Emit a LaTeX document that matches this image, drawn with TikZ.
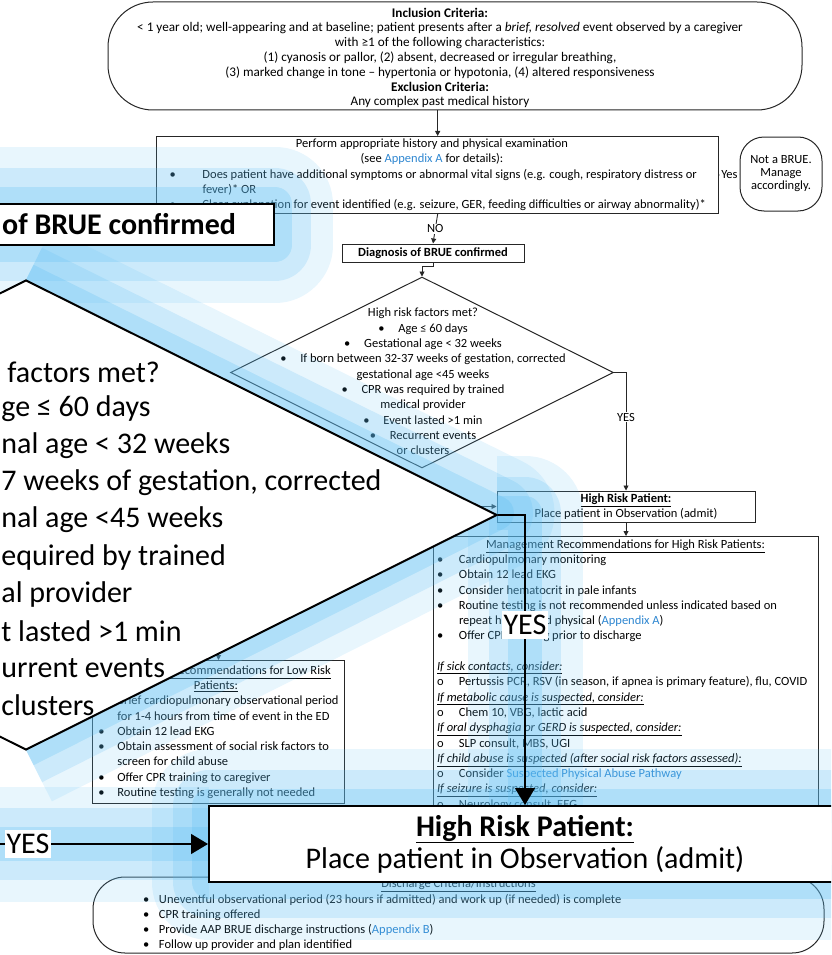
\documentclass[tikz,border=0pt]{standalone}
\usepackage{fontspec}
\setmainfont{Carlito}
\usepackage{tikz}
\usetikzlibrary{arrows.meta, shapes.geometric, calc, positioning}
\definecolor{linkBlue}{HTML}{2E86D0}
\definecolor{glowBlue}{HTML}{5CBDF2}
\definecolor{flowGrey}{HTML}{262626}
\newcommand{\smalltxt}{\fontsize{12.5}{15.3}\selectfont}
\newcommand{\bigtxt}{\fontsize{30}{32}\selectfont}
\newcommand{\bl}[1][22pt]{\makebox[#1][l]{\textbullet}}
\newcommand{\subo}{\makebox[22pt][l]{o}}
\newcommand{\hd}[1]{\underline{\textit{#1}}}
\tikzset{
  % thin boxes of the flow chart, heavy ones for the enlarged call-outs
  every picture/.append style = {line width=0.8pt, >={Triangle[length=5pt, width=5pt]}},
  flowbox/.style   = {draw=flowGrey, line width=1pt, inner sep=0pt, font=\smalltxt},
  flowarrow/.style = {->, draw=flowGrey, line width=0.9pt},
  lbl/.style       = {fill=white, inner sep=1pt, font=\smalltxt},
  bigbox/.style    = {draw=black, line width=2pt, fill=white, font=\bigtxt},
  bigarrow/.style  = {-{Triangle[length=17pt, width=20pt]}, line width=1.4pt},
  biglbl/.style    = {fill=white, inner xsep=2pt, inner ysep=4pt, font=\bigtxt},
  glow/.style args = {#1/#2}{draw=glowBlue, line width=#1, draw opacity=#2, line join=round},
}

\begin{document}
\begin{tikzpicture}[x=1pt, y=-1pt]
  \useasboundingbox (0,0) rectangle (831,955);
  \clip (0,0) rectangle (831,955);

  % criteria box on top
  \node[flowbox, rounded corners=45pt, minimum width=694pt, minimum height=108pt] (incl) at (455,56) {};
  \node[font=\fontsize{13.2}{14.8}\selectfont, align=center, inner sep=0pt] (incltext) at (440,58)
    {\textbf{Inclusion Criteria:}\\
     < 1 year old; well-appearing and at baseline; patient presents after a \textit{brief, resolved} event observed by a caregiver\\
     with ≥1 of the following characteristics:\\
     (1) cyanosis or pallor, (2) absent, decreased or irregular breathing,\\
     (3) marked change in tone -- hypertonia or hypotonia, (4) altered responsiveness\\
     \textbf{Exclusion Criteria:}\\
     Any complex past medical history};

  % history and exam
  \node[flowbox, anchor=north west, minimum width=551pt, minimum height=77pt, inner xsep=13pt, align=left] (hist) at (156,136)
    {\makebox[525pt]{Perform appropriate history and physical examination}\\
     \makebox[525pt]{(see \textcolor{linkBlue}{Appendix A} for details):}\\
     \bl[33pt]Does patient have additional symptoms or abnormal vital signs (e.g. cough, respiratory distress or\\
     \hspace*{33pt}fever)* OR\\
     \bl[33pt]Clear explanation for event identified (e.g. seizure, GER, feeding difficulties or airway abnormality)*};
  \node[flowbox, rounded corners=24pt, minimum width=82pt, minimum height=74pt, align=center,
        font=\fontsize{12.5}{13}\selectfont] (notbrue) at (781,174) {Not a BRUE.\\ Manage\\ accordingly.};
  \node[flowbox, minimum width=182pt, minimum height=18pt, font=\smalltxt\bfseries] (diag) at (433,253) {Diagnosis of BRUE confirmed};

  % risk decision
  \node[flowbox, diamond, minimum width=383pt, minimum height=191pt] (risk) at (422,372.5) {};
  \node[font=\smalltxt, align=center, inner sep=0pt] (risktext) at (423,381.5)
    {High risk factors met?\\
     \bl[20pt]Age ≤ 60 days\\
     \bl[20pt]Gestational age < 32 weeks\\
     \bl[20pt]If born between 32-37 weeks of gestation, corrected\\
     gestational age <45 weeks\\
     \bl[20pt]CPR was required by trained\\
     medical provider\\
     \bl[20pt]Event lasted >1 min\\
     \bl[20pt]Recurrent events\\
     or clusters};

  \node[flowbox, minimum width=258pt, minimum height=31pt, align=center,
        font=\fontsize{12.5}{13}\selectfont] (high) at (626,506.5)
    {\underline{\textbf{High Risk Patient:}}\\ Place patient in Observation (admit)};

  \node[flowbox, anchor=north, minimum width=385pt, inner xsep=4pt, inner ysep=3pt, align=left] (mgmt) at (625.5,536)
    {\makebox[377pt]{\underline{Management Recommendations for High Risk Patients:}}\\
     \bl Cardiopulmonary monitoring\\
     \bl Obtain 12 lead EKG\\
     \bl Consider hematocrit in pale infants\\
     \bl Routine testing is not recommended unless indicated based on\\
     \hspace*{22pt}repeat history and physical (\textcolor{linkBlue}{Appendix A})\\
     \bl Offer CPR training prior to discharge\\
     \mbox{}\\
     \hd{If sick contacts, consider:}\\
     \subo Pertussis PCR, RSV (in season, if apnea is primary feature), flu, COVID\\
     \hd{If metabolic cause is suspected, consider:}\\
     \subo Chem 10, VBG, lactic acid\\
     \hd{If oral dysphagia or GERD is suspected, consider:}\\
     \subo SLP consult, MBS, UGI\\
     \hd{If child abuse is suspected (after social risk factors assessed):}\\
     \subo Consider \textcolor{linkBlue}{Suspected Physical Abuse Pathway}\\
     \hd{If seizure is suspected, consider:}\\
     \subo Neurology consult, EEG};

  \node[flowbox, anchor=north, minimum width=247pt, inner xsep=6pt, inner ysep=5pt, align=left] (low) at (218.5,660)
    {\makebox[235pt]{\underline{Management Recommendations for Low Risk}}\\
     \makebox[235pt]{\underline{Patients:}}\\
     \bl[19pt]Brief cardiopulmonary observational period\\
     \hspace*{19pt}for 1-4 hours from time of event in the ED\\
     \bl[19pt]Obtain 12 lead EKG\\
     \bl[19pt]Obtain assessment of social risk factors to\\
     \hspace*{19pt}screen for child abuse\\
     \bl[19pt]Offer CPR training to caregiver\\
     \bl[19pt]Routine testing is generally not needed};

  \node[flowbox, rounded corners=32pt, minimum width=731pt, minimum height=76pt, inner xsep=50pt, align=left] (disch) at (458.5,915)
    {\makebox[631pt]{\underline{Discharge Criteria/Instructions}}\\
     \bl[16pt]Uneventful observational period (23 hours if admitted) and work up (if needed) is complete\\
     \bl[16pt]CPR training offered\\
     \bl[16pt]Provide AAP BRUE discharge instructions (\textcolor{linkBlue}{Appendix B})\\
     \bl[16pt]Follow up provider and plan identified};

  % flow chart arrows
  \coordinate (highin) at (450,506.5);
  \coordinate (lowin) at (218.5,620);
  \draw[flowarrow] (incl.south -| hist.north) -- (hist.north);
  \draw[flowarrow] (hist.east) -- (notbrue.west) node[lbl, midway] {Yes};
  \draw[flowarrow] (hist.south) -- (diag.north) node[lbl, midway] {NO};
  \draw[flowarrow] (diag.south) -- ++(0,4) -| (risk.north);
  \draw[flowarrow] (risk.east) -| (high.north) node[lbl, pos=0.69] {YES};
  \draw[flowarrow] (highin) -- (high.west);
  \draw[flowarrow] (high.south) -- (high.south |- mgmt.north);
  \draw[flowarrow] (lowin) -- (low.north);

  % blue glow round the call-outs
  \foreach \w/\o in {115pt/0.14, 72pt/0.2, 34pt/0.26} {
    \draw[glow=\w/\o] (-30,204) rectangle (275,245);
    \draw[glow=\w/\o] (26,280) -- (497,513) -- (26,750);
    \draw[glow=\w/\o] (497,513) -- (525,513) -- (525,806);
    \draw[glow=\w/\o] (209,806) rectangle (860,882);
    \draw[glow=\w/\o] (-20,844) -- (209,844);
  }

  % enlarged call-outs
  \node[bigbox, diamond, minimum width=942pt, minimum height=470pt] (bigrisk) at (26,515) {};
  \foreach \lx/\ty/\txt [count=\i] in {7/372/{factors met?}, 1/409/{ge ≤ 60 days},
      1/446/{nal age < 32 weeks}, 1/483/{7 weeks of gestation, corrected},
      1/520/{nal age <45 weeks}, 1/557/{equired by trained}, 1/594/{al provider},
      1/631/{t lasted >1 min}, 1/668/{urrent events}, 1/705/{clusters}}
    \node[font=\bigtxt, anchor=west, inner sep=0pt] (bigtxt\i) at (\lx,\ty) {\txt};

  \node[bigbox, anchor=east, minimum height=41pt, inner xsep=38pt, inner ysep=0pt, font=\bigtxt\bfseries] (bigdiag) at (275,224.5) {of BRUE confirmed};
  \node[bigbox, minimum width=632pt, minimum height=76pt, align=center] (bighigh) at (525,844)
    {\underline{\textbf{High Risk Patient:}}\\ Place patient in Observation (admit)};

  \coordinate (yesstart) at (-5,844);
  \draw[bigarrow] (bigrisk.east) -| (bighigh.north) node[biglbl, pos=0.69] (bigyes) {YES};
  \draw[bigarrow] (yesstart) -- (bighigh.west) node[biglbl, pos=0.155] (leftyes) {YES};
\end{tikzpicture}
\end{document}
